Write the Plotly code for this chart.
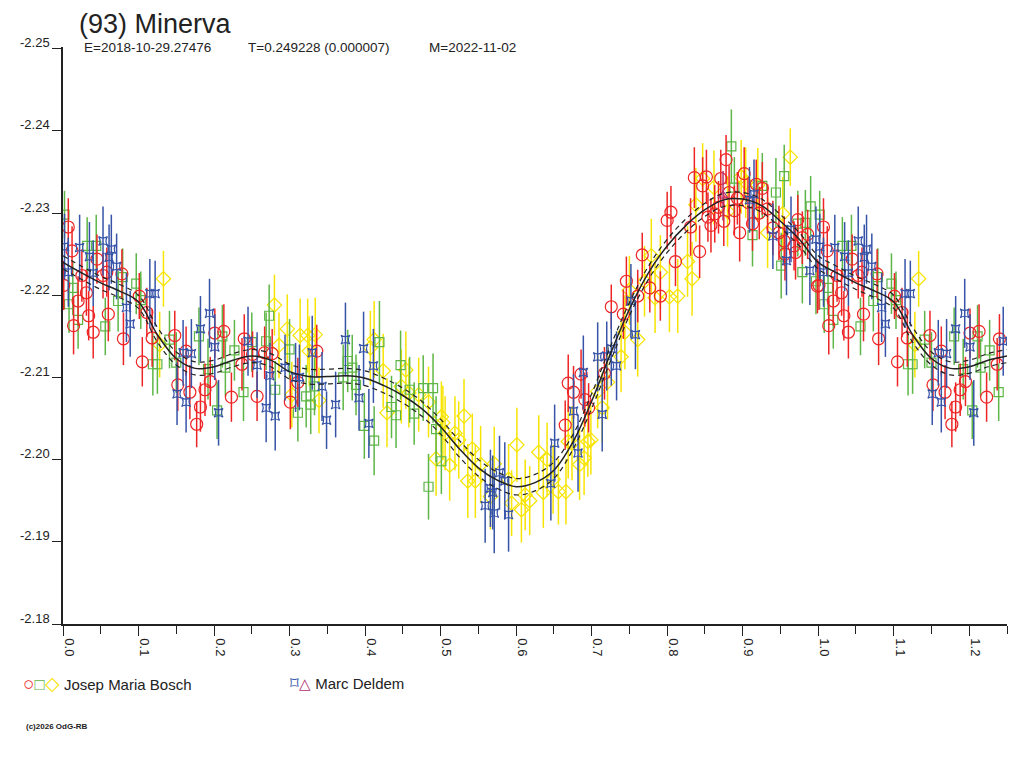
import plotly.graph_objects as go

# ---- fitted light curve (phase, mag) ----
fit_phase = [0.000, 0.025, 0.050, 0.075, 0.100, 0.125, 0.150, 0.175, 0.200, 0.225,
             0.250, 0.275, 0.300, 0.325, 0.350, 0.375, 0.400, 0.425, 0.450, 0.475,
             0.500, 0.525, 0.550, 0.575, 0.600, 0.625, 0.650, 0.675, 0.700, 0.725,
             0.750, 0.775, 0.800, 0.825, 0.850, 0.875, 0.900, 0.925, 0.950, 0.975]
fit_mag = [-2.2240, -2.2227, -2.2215, -2.2205, -2.2192, -2.2152, -2.2123, -2.2111, -2.2113, -2.2121,
           -2.2126, -2.2121, -2.2107, -2.2101, -2.2101, -2.2102, -2.2099, -2.2090, -2.2078, -2.2062,
           -2.2040, -2.2013, -2.1990, -2.1975, -2.1967, -2.1972, -2.1987, -2.2021, -2.2071, -2.2129,
           -2.2183, -2.2227, -2.2260, -2.2285, -2.2304, -2.2316, -2.2317, -2.2309, -2.2290, -2.2268]
fit_hi = [-2.2248, -2.2235, -2.2223, -2.2213, -2.2200, -2.2161, -2.2131, -2.2119, -2.2121, -2.2129,
          -2.2134, -2.2129, -2.2116, -2.2110, -2.2110, -2.2111, -2.2108, -2.2099, -2.2087, -2.2071,
          -2.2049, -2.2023, -2.2000, -2.1985, -2.1977, -2.1982, -2.1997, -2.2030, -2.2080, -2.2138,
          -2.2191, -2.2235, -2.2268, -2.2293, -2.2312, -2.2324, -2.2325, -2.2317, -2.2298, -2.2276]
fit_lo = [-2.2232, -2.2219, -2.2207, -2.2197, -2.2184, -2.2143, -2.2115, -2.2103, -2.2105, -2.2113,
          -2.2118, -2.2113, -2.2098, -2.2092, -2.2092, -2.2093, -2.2090, -2.2081, -2.2069, -2.2053,
          -2.2031, -2.2003, -2.1980, -2.1965, -2.1957, -2.1962, -2.1977, -2.2012, -2.2062, -2.2120,
          -2.2175, -2.2219, -2.2252, -2.2277, -2.2296, -2.2308, -2.2309, -2.2301, -2.2282, -2.2260]

# ---- Josep Maria Bosch, session 1 (red circles) ----
red_phase = [0.001, 0.007, 0.012, 0.014, 0.020, 0.025, 0.031, 0.034, 0.040, 0.045,
             0.053, 0.058, 0.060, 0.078, 0.080, 0.101, 0.105, 0.111, 0.118, 0.148,
             0.152, 0.163, 0.168, 0.177, 0.182, 0.188, 0.195, 0.201, 0.213, 0.223,
             0.237, 0.240, 0.251, 0.257, 0.267, 0.277, 0.301, 0.311, 0.336, 0.665,
             0.669, 0.676, 0.686, 0.691, 0.696, 0.717, 0.726, 0.742, 0.746, 0.761,
             0.767, 0.777, 0.791, 0.800, 0.805, 0.811, 0.831, 0.836, 0.843, 0.847,
             0.852, 0.854, 0.858, 0.863, 0.868, 0.871, 0.875, 0.878, 0.882, 0.889,
             0.893, 0.896, 0.902, 0.907, 0.913, 0.918, 0.922, 0.926, 0.933, 0.940,
             0.948, 0.955, 0.956, 0.968, 0.970, 0.973, 0.979, 0.986, 0.999]
red_mag = [-2.2212, -2.2283, -2.2254, -2.2163, -2.2193, -2.2224, -2.2203, -2.2175, -2.2155, -2.2244,
           -2.2224, -2.2228, -2.2177, -2.2226, -2.2147, -2.2199, -2.2119, -2.2179, -2.2148, -2.2151,
           -2.2091, -2.2132, -2.2082, -2.2043, -2.2064, -2.2085, -2.2095, -2.2154, -2.2156, -2.2076,
           -2.2116, -2.2147, -2.2128, -2.2077, -2.2130, -2.2129, -2.2070, -2.2094, -2.2132, -2.2042,
           -2.2093, -2.2082, -2.2104, -2.2073, -2.2063, -2.2105, -2.2186, -2.2177, -2.2217, -2.2199,
           -2.2249, -2.2209, -2.2199, -2.2291, -2.2301, -2.2241, -2.2283, -2.2343, -2.2253, -2.2333,
           -2.2344, -2.2295, -2.2285, -2.2299, -2.2307, -2.2342, -2.2290, -2.2365, -2.2325, -2.2303,
           -2.2318, -2.2276, -2.2348, -2.2313, -2.2287, -2.2335, -2.2300, -2.2330, -2.2305, -2.2282,
           -2.2276, -2.2266, -2.2250, -2.2260, -2.2252, -2.2292, -2.2270, -2.2274, -2.2211]
red_err = [0.0030, 0.0035, 0.0030, 0.0035, 0.0030, 0.0032, 0.0028, 0.0030, 0.0032, 0.0030,
           0.0028, 0.0030, 0.0033, 0.0030, 0.0032, 0.0028, 0.0030, 0.0030, 0.0035, 0.0030,
           0.0032, 0.0030, 0.0033, 0.0028, 0.0030, 0.0032, 0.0030, 0.0030, 0.0033, 0.0030,
           0.0032, 0.0030, 0.0028, 0.0030, 0.0032, 0.0030, 0.0033, 0.0030, 0.0032, 0.0030,
           0.0035, 0.0032, 0.0030, 0.0033, 0.0030, 0.0032, 0.0027, 0.0030, 0.0030, 0.0032,
           0.0027, 0.0030, 0.0030, 0.0035, 0.0032, 0.0030, 0.0035, 0.0037, 0.0032, 0.0035,
           0.0033, 0.0030, 0.0033, 0.0035, 0.0032, 0.0035, 0.0030, 0.0030, 0.0033, 0.0030,
           0.0032, 0.0035, 0.0032, 0.0030, 0.0033, 0.0030, 0.0032, 0.0032, 0.0030, 0.0033,
           0.0033, 0.0030, 0.0032, 0.0030, 0.0033, 0.0030, 0.0032, 0.0030, 0.0033]

# ---- Josep Maria Bosch, session 2 (green squares) ----
grn_phase = [0.002, 0.008, 0.013, 0.020, 0.032, 0.044, 0.056, 0.073, 0.079, 0.097,
             0.103, 0.119, 0.125, 0.141, 0.150, 0.180, 0.192, 0.204, 0.211, 0.215,
             0.227, 0.239, 0.250, 0.269, 0.273, 0.281, 0.300, 0.311, 0.322, 0.328,
             0.333, 0.371, 0.377, 0.383, 0.388, 0.399, 0.412, 0.419, 0.435, 0.441,
             0.447, 0.459, 0.465, 0.477, 0.484, 0.490, 0.494, 0.501, 0.885, 0.889,
             0.913, 0.926, 0.944, 0.951, 0.955, 0.973, 0.979, 0.983, 0.990, 0.997]
grn_mag = [-2.2298, -2.2189, -2.2209, -2.2170, -2.2260, -2.2260, -2.2162, -2.2193, -2.2222, -2.2214,
           -2.2194, -2.2116, -2.2116, -2.2146, -2.2118, -2.2150, -2.2110, -2.2060, -2.2150, -2.2112,
           -2.2133, -2.2082, -2.2143, -2.2144, -2.2175, -2.2085, -2.2134, -2.2057, -2.2077, -2.2067,
           -2.2089, -2.2100, -2.2120, -2.2112, -2.2091, -2.2041, -2.2023, -2.2143, -2.2064, -2.2054,
           -2.2115, -2.2085, -2.2056, -2.2087, -2.1967, -2.2087, -2.2037, -2.1998, -2.2381, -2.2331,
           -2.2273, -2.2333, -2.2325, -2.2236, -2.2345, -2.2287, -2.2228, -2.2288, -2.2308, -2.2217]
grn_err = [0.0029, 0.0035, 0.0033, 0.0035, 0.0035, 0.0038, 0.0035, 0.0037, 0.0035, 0.0037,
           0.0035, 0.0038, 0.0036, 0.0035, 0.0037, 0.0035, 0.0037, 0.0035, 0.0038, 0.0035,
           0.0037, 0.0035, 0.0036, 0.0035, 0.0038, 0.0035, 0.0037, 0.0035, 0.0038, 0.0036,
           0.0035, 0.0040, 0.0038, 0.0040, 0.0037, 0.0040, 0.0042, 0.0050, 0.0038, 0.0040,
           0.0042, 0.0040, 0.0038, 0.0040, 0.0040, 0.0042, 0.0040, 0.0040, 0.0045, 0.0037,
           0.0038, 0.0040, 0.0042, 0.0040, 0.0038, 0.0040, 0.0038, 0.0040, 0.0037, 0.0040]

# ---- Josep Maria Bosch, session 3 (yellow diamonds) ----
yel_phase = [0.128, 0.133, 0.280, 0.286, 0.297, 0.303, 0.314, 0.324, 0.326, 0.334,
             0.339, 0.407, 0.412, 0.424, 0.429, 0.448, 0.454, 0.458, 0.471, 0.484,
             0.494, 0.501, 0.503, 0.506, 0.512, 0.519, 0.524, 0.531, 0.536, 0.542,
             0.546, 0.553, 0.566, 0.571, 0.590, 0.594, 0.601, 0.607, 0.612, 0.618,
             0.630, 0.636, 0.641, 0.649, 0.656, 0.666, 0.669, 0.674, 0.684, 0.690,
             0.695, 0.699, 0.708, 0.714, 0.721, 0.739, 0.744, 0.750, 0.761, 0.770,
             0.779, 0.784, 0.791, 0.803, 0.814, 0.827, 0.833, 0.838, 0.847, 0.862,
             0.880, 0.898, 0.904, 0.920, 0.933, 0.953, 0.963]
yel_mag = [-2.2140, -2.2220, -2.2188, -2.2139, -2.2159, -2.2079, -2.2151, -2.2151, -2.2132, -2.2152,
           -2.2072, -2.2136, -2.2146, -2.2108, -2.2057, -2.2089, -2.2109, -2.2081, -2.2079, -2.2070,
           -2.2001, -2.2052, -2.2045, -2.2032, -2.1993, -2.2032, -2.2024, -2.2053, -2.1974, -2.2013,
           -2.1974, -2.1994, -2.1955, -2.1995, -2.1976, -2.1947, -2.2018, -2.1939, -2.1957, -2.1950,
           -2.2009, -2.1960, -2.2000, -2.1976, -2.1961, -2.1961, -2.2022, -2.2020, -2.1994, -2.2002,
           -2.2022, -2.2024, -2.2083, -2.2063, -2.2094, -2.2125, -2.2155, -2.2206, -2.2146, -2.2217,
           -2.2248, -2.2197, -2.2228, -2.2198, -2.2199, -2.2241, -2.2220, -2.2310, -2.2342, -2.2331,
           -2.2302, -2.2344, -2.2337, -2.2334, -2.2276, -2.2299, -2.2368]
yel_err = [0.0040, 0.0034, 0.0037, 0.0040, 0.0042, 0.0040, 0.0045, 0.0045, 0.0042, 0.0045,
           0.0040, 0.0045, 0.0047, 0.0045, 0.0042, 0.0045, 0.0047, 0.0042, 0.0045, 0.0043,
           0.0045, 0.0043, 0.0045, 0.0045, 0.0043, 0.0045, 0.0047, 0.0045, 0.0045, 0.0043,
           0.0045, 0.0047, 0.0040, 0.0045, 0.0043, 0.0040, 0.0045, 0.0040, 0.0043, 0.0042,
           0.0045, 0.0043, 0.0045, 0.0042, 0.0040, 0.0040, 0.0045, 0.0045, 0.0043, 0.0045,
           0.0043, 0.0042, 0.0045, 0.0043, 0.0045, 0.0043, 0.0045, 0.0042, 0.0045, 0.0043,
           0.0045, 0.0043, 0.0045, 0.0043, 0.0045, 0.0043, 0.0045, 0.0045, 0.0043, 0.0045,
           0.0043, 0.0045, 0.0043, 0.0045, 0.0043, 0.0045, 0.0035]

# ---- Marc Deldem (blue) ----
blu_phase = [0.002, 0.007, 0.022, 0.035, 0.040, 0.053, 0.061, 0.064, 0.071, 0.084,
             0.089, 0.115, 0.122, 0.151, 0.159, 0.163, 0.170, 0.182, 0.194, 0.201,
             0.206, 0.245, 0.257, 0.269, 0.274, 0.281, 0.294, 0.308, 0.313, 0.330,
             0.343, 0.349, 0.361, 0.374, 0.392, 0.398, 0.405, 0.411, 0.559, 0.566,
             0.569, 0.571, 0.578, 0.585, 0.590, 0.646, 0.651, 0.676, 0.682, 0.689,
             0.708, 0.714, 0.720, 0.726, 0.733, 0.752, 0.758, 0.909, 0.915, 0.940,
             0.958, 0.964, 0.989, 0.997]
blu_mag = [-2.2259, -2.2228, -2.2258, -2.2247, -2.2227, -2.2266, -2.2246, -2.2256, -2.2235, -2.2185,
           -2.2165, -2.2202, -2.2202, -2.2080, -2.2130, -2.2070, -2.2129, -2.2159, -2.2178, -2.2137,
           -2.2057, -2.2144, -2.2115, -2.2063, -2.2102, -2.2053, -2.2112, -2.2100, -2.2100, -2.2130,
           -2.2089, -2.2048, -2.2067, -2.2146, -2.2075, -2.2135, -2.2044, -2.2114, -2.1944, -2.1965,
           -2.1960, -2.1935, -2.1984, -2.1974, -2.1933, -2.1971, -2.2020, -2.2059, -2.2008, -2.2106,
           -2.2125, -2.2055, -2.2126, -2.2135, -2.2114, -2.2193, -2.2152, -2.2316, -2.2323, -2.2272,
           -2.2242, -2.2280, -2.2230, -2.2268]
blu_err = [0.0040, 0.0042, 0.0040, 0.0042, 0.0040, 0.0042, 0.0040, 0.0042, 0.0040, 0.0042,
           0.0040, 0.0042, 0.0040, 0.0038, 0.0040, 0.0037, 0.0042, 0.0040, 0.0042, 0.0040,
           0.0040, 0.0042, 0.0040, 0.0042, 0.0040, 0.0042, 0.0040, 0.0042, 0.0040, 0.0045,
           0.0042, 0.0035, 0.0040, 0.0045, 0.0040, 0.0045, 0.0042, 0.0045, 0.0045, 0.0047,
           0.0045, 0.0049, 0.0045, 0.0047, 0.0045, 0.0045, 0.0047, 0.0045, 0.0047, 0.0045,
           0.0042, 0.0045, 0.0042, 0.0045, 0.0042, 0.0045, 0.0042, 0.0040, 0.0042, 0.0040,
           0.0042, 0.0040, 0.0042, 0.0040]

# ---- Marc Deldem (purple triangles) ----
pur_phase = [0.874]
pur_mag = [-2.2321]
pur_err = [0.0030]

y_tick_vals = [-2.25, -2.24, -2.23, -2.22, -2.21, -2.20, -2.19, -2.18]
y_tick_text = ["-2.25", "-2.24", "-2.23", "-2.22", "-2.21", "-2.20", "-2.19", "-2.18"]

FONT = "Liberation Sans, Arial, sans-serif"
INK = "#222222"

# plot area on the page (the page body adds an 8px margin)
PX0, PX1, PY0, PY1 = 59, 1007, 47, 624


def px(sx):
    return (sx - PX0) / (PX1 - PX0)


def py(sy):
    return (PY1 - sy) / (PY1 - PY0)


def wrap(ph, *cols, limit=0.25):
    # repeat the start of the rotation after phase 1 (axis runs to 1.25)
    keep = [i for i, p in enumerate(ph) if p <= limit]
    out = [list(ph) + [ph[i] + 1 for i in keep]]
    for c in cols:
        out.append(list(c) + [c[i] for i in keep])
    return out


fig = go.Figure()

series = [
    (yel_phase, yel_mag, yel_err, "#F7E400", "diamond-open", 11),
    (grn_phase, grn_mag, grn_err, "#5DB646", "square-open", 9),
    (red_phase, red_mag, red_err, "#EE2424", "circle-open", 12),
    (blu_phase, blu_mag, blu_err, "#3653A8", "star-square-open", 8),
    (pur_phase, pur_mag, pur_err, "#B03070", "triangle-up-open", 9),
]
for ph, mg, er, col, sym, sz in series:
    x, y, e = wrap(ph, mg, er, limit=0.2499)
    fig.add_trace(go.Scatter(
        x=x, y=y, mode="markers",
        marker=dict(symbol=sym, size=sz, color=col, line=dict(color=col, width=1.2)),
        error_y=dict(type="data", array=e, visible=True, color=col, thickness=1.5, width=0),
        showlegend=False, hoverinfo="skip"))

for vals, dash, w in [(fit_hi, "5px,4px", 1.2), (fit_lo, "5px,4px", 1.2), (fit_mag, "solid", 1.5)]:
    x, y = wrap(fit_phase, vals)
    fig.add_trace(go.Scatter(
        x=x, y=y, mode="lines",
        line=dict(color=INK, width=w, dash=dash, shape="spline", smoothing=1.0),
        showlegend=False, hoverinfo="skip"))

fig.update_layout(
    width=1016, height=760,
    margin=dict(l=PX0 - 8, r=1016 - (PX1 - 8), t=PY0 - 8, b=760 - (PY1 - 8)),
    paper_bgcolor="white", plot_bgcolor="white",
    font=dict(family=FONT, size=13, color=INK),
    showlegend=False,
)

fig.update_xaxes(
    range=[0, 1.25], showgrid=False, zeroline=False,
    showline=True, linecolor=INK, linewidth=1.5,
    ticks="outside", ticklen=10, tickwidth=1.3, tickcolor=INK,
    tick0=0, dtick=0.1, tickformat=".1f", tickangle=90,
    ticklabelshift=6, ticklabelstandoff=0,
    tickfont=dict(family=FONT, size=13, color=INK),
    minor=dict(ticks="outside", ticklen=8, tickwidth=1.3, tickcolor=INK, tick0=0, dtick=0.05),
)
fig.update_yaxes(
    range=[-2.18, -2.2502], showgrid=False, zeroline=False,
    showline=True, linecolor=INK, linewidth=1.5,
    ticks="outside", ticklen=9, tickwidth=1.3, tickcolor=INK,
    tickmode="array", tickvals=y_tick_vals, ticktext=y_tick_text,
    ticklabelshift=6, ticklabelstandoff=0,
    tickfont=dict(family=FONT, size=13, color=INK),
)

# title and subtitle
fig.add_annotation(text="(93) Minerva", xref="paper", yref="paper", x=px(74), y=py(8),
                   xanchor="left", yanchor="top", showarrow=False, borderpad=0,
                   font=dict(family=FONT, size=27, color=INK))
for txt, sx in [("E=2018-10-29.27476", 78), ("T=0.249228 (0.000007)", 243), ("M=2022-11-02", 425)]:
    fig.add_annotation(text=txt, xref="paper", yref="paper", x=px(sx), y=py(48),
                       xanchor="left", yanchor="middle", showarrow=False,
                       font=dict(family=FONT, size=13.5, color=INK))

# observer key
fig.add_annotation(
    text="<span style='color:#EE2424;font-size:19px'>○</span>"
         "<span style='color:#5DB646;font-size:17px'>□</span>"
         "<span style='color:#F7E400;font-size:19px'>◇</span> Josep Maria Bosch",
    xref="paper", yref="paper", x=px(17), y=py(683),
    xanchor="left", yanchor="middle", showarrow=False, font=dict(family=FONT, size=15, color=INK))
fig.add_annotation(
    text="<span style='color:#3653A8;font-size:17px'>⌑</span>"
         "<span style='color:#B03070'>△</span> Marc Deldem",
    xref="paper", yref="paper", x=px(285), y=py(683),
    xanchor="left", yanchor="middle", showarrow=False, font=dict(family=FONT, size=15, color=INK))

fig.add_annotation(text="<b>(c)2026 OdG-RB</b>", xref="paper", yref="paper",
                   x=px(20), y=py(726), xanchor="left", yanchor="middle",
                   showarrow=False, font=dict(family=FONT, size=8, color=INK))

fig.write_html("out.html")
